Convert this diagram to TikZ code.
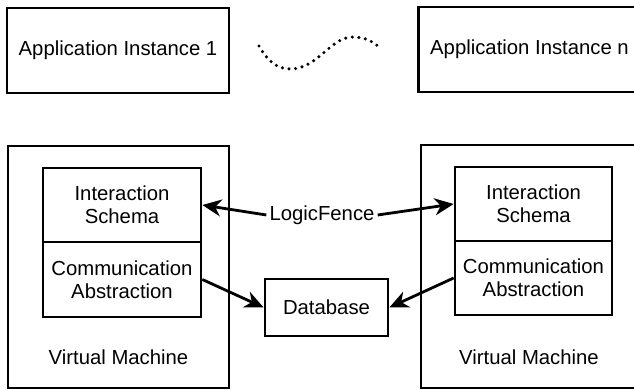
\documentclass[tikz,border=0pt]{standalone}
\usepackage{fontspec}
\setmainfont{Liberation Sans}
\usetikzlibrary{arrows.meta}

\tikzset{
  box/.style={draw, line width=2.7pt, inner sep=0pt, align=center},
  link/.style={line width=2.8pt, -{Stealth[length=19pt,width=17pt,inset=6pt]}},
  wave/.style={line width=3.4pt, line cap=round, dash pattern=on 0pt off 6.6pt}
}

\begin{document}
\begin{tikzpicture}[x=1pt, y=-1pt]
                \useasboundingbox (0,0) rectangle (634,390);
                {\fontsize{20.3}{23}\selectfont

                % Application instances
                \node [box, minimum width=222pt, minimum height=85pt] (app1) at (118,50.5) {Application Instance 1};
                \node [box, minimum width=222pt, minimum height=85pt] (appn) at (529.5,49.5) {Application Instance n};

                % Dotted wave between the instances
                \draw [wave] (259,46) .. controls (268,62) and (278,69) .. (290,69) .. controls (318,69) and (330,37) .. (353,37) .. controls (365,37) and (374,42) .. (380,48);

                % Left virtual machine
                \node [box, minimum width=221pt, minimum height=242pt] (vmL) at (118.5,267) {};
                \node (vmLtext) at (118.5,357) {Virtual Machine};
                \node [box, minimum width=158pt, minimum height=74pt] (isL) at (122,205) {Interaction\\Schema};
                \node [box, minimum width=158pt, minimum height=75pt] (caL) at (122,279.5) {Communication\\Abstraction};

                % Right virtual machine
                \node [box, minimum width=216pt, minimum height=243pt] (vmR) at (529,266.5) {};
                \node (vmRtext) at (529,357) {Virtual Machine};
                \node [box, minimum width=157pt, minimum height=74pt] (isR) at (533.5,204) {Interaction\\Schema};
                \node [box, minimum width=157pt, minimum height=74pt] (caR) at (533.5,278) {Communication\\Abstraction};

                % Shared parts
                \node [inner sep=3pt] (fence) at (322,215) {LogicFence};
                \node [box, minimum width=123pt, minimum height=57pt] (db) at (326.5,307.5) {Database};

                % Connectors
                \draw [link] (fence.west) -- (isL.east);
                \draw [link] (fence.east) -- (isR.west);
                \draw [link] (caL.east) -- (db.west);
                \draw [link] (caR.west) -- (db.east);
                }
\end{tikzpicture}
\end{document}
